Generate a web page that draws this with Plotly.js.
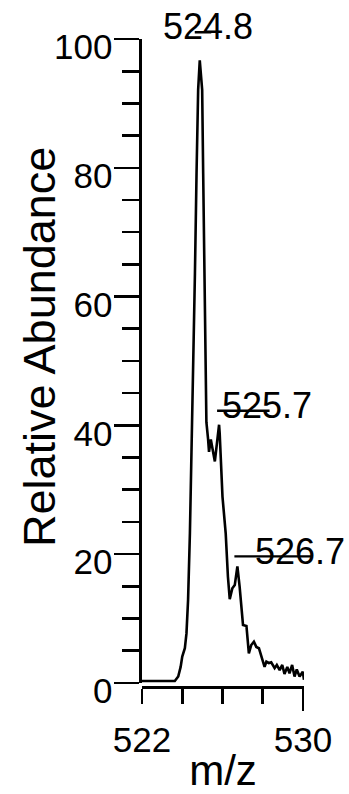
<!DOCTYPE html>
<html>
<head>
<meta charset="utf-8">
<script src="https://cdn.plot.ly/plotly-3.0.1.min.js"></script>
<style>html,body{margin:0;padding:0;background:#fff;}#chart{width:349px;height:794px;}</style>
</head>
<body>
<div id="chart"></div>
<script>
// m/z values of the profile spectrum
const mz = [522.00, 523.63, 523.80, 523.92, 524.00, 524.13, 524.21, 524.29, 524.38, 524.46,
  524.51, 524.63, 524.71, 524.79, 524.87, 524.99, 525.04, 525.12, 525.20, 525.28,
  525.33, 525.42, 525.62, 525.83, 525.86, 526.00, 526.16, 526.27, 526.36, 526.49,
  526.61, 526.74, 526.85, 527.02, 527.19, 527.31, 527.43, 527.56, 527.68, 527.81,
  527.93, 528.09, 528.18, 528.30, 528.42, 528.59, 528.70, 528.84, 528.97, 529.08,
  529.22, 529.33, 529.46, 529.58, 529.69, 529.83, 529.99, 530.05];
// relative abundance (%)
const abundance = [0.3, 0.3, 1.0, 2.5, 4.1, 5.4, 7.7, 12.9, 23.2, 36.2,
  38.8, 63.6, 79.1, 92.1, 96.7, 92.1, 79.1, 58.4, 40.5, 38.0,
  35.9, 37.8, 34.4, 40.1, 38.8, 28.9, 23.2, 16.5, 13.0, 14.7,
  15.2, 18.1, 15.0, 9.0, 8.85, 4.6, 5.9, 6.4, 5.6, 5.4,
  4.1, 2.5, 3.3, 3.1, 3.2, 2.3, 2.8, 2.0, 2.8, 1.4,
  2.5, 1.5, 2.8, 1.0, 2.1, 1.0, 1.75, 0.5];

// labelled peaks
const peakMz = [524.87, 525.83, 526.74];
const peakAbundance = [96.7, 40.1, 18.1];
const peakLabels = ['524.8', '525.7', '526.7'];

// axis ticks and titles
const xTickVals = [522, 524, 526, 528, 530];
const xTickText = ['522', '', '', '', '530'];
const xLongTick = [530];
const yTickVals = [0, 20, 40, 60, 80, 100];
const xTitle = 'm/z';
const yTitle = 'Relative Abundance';

// label placement (pixel offsets from each peak) - layout only
const labelShift = [[8, 34], [48, 19], [63, 15]];
const leaderShift = [[-5, 28, 17], [-2, 14, 53], [-3, 10, 78]];

const FONT = '"Liberation Sans", Arial, Helvetica, sans-serif';
const LW = 2.6;

const annotations = [];
peakLabels.forEach((t, i) => {
  annotations.push({
    x: peakMz[i], y: peakAbundance[i], xref: 'x', yref: 'y',
    text: t, showarrow: false,
    xshift: labelShift[i][0], yshift: labelShift[i][1],
    font: {family: FONT, size: 36, color: '#000'}
  });
  annotations.push({
    x: peakMz[i], y: peakAbundance[i], xref: 'x', yref: 'y',
    text: '', showarrow: true, arrowhead: 0, arrowwidth: 2.4, arrowcolor: '#000',
    standoff: 0, startstandoff: 0, borderpad: 0,
    xshift: leaderShift[i][0], yshift: leaderShift[i][1],
    axref: 'pixel', ayref: 'pixel', ax: leaderShift[i][2], ay: 0
  });
});
// y-axis title, placed as a rotated annotation so it can sit close to the tick labels
annotations.push({
  x: 0, y: 0.5, xref: 'paper', yref: 'paper', xanchor: 'center', yanchor: 'middle',
  text: yTitle, textangle: -90, showarrow: false,
  xshift: -103, yshift: 16,
  font: {family: FONT, size: 45, color: '#000'}
});

const traces = [
  {x: mz, y: abundance, type: 'scatter', mode: 'lines',
   line: {color: '#000', width: LW}, hoverinfo: 'skip', showlegend: false},
  {x: [], y: [], xaxis: 'x2', yaxis: 'y', type: 'scatter', mode: 'lines', showlegend: false}
];

const layout = {
  width: 349, height: 794,
  margin: {l: 142, r: 45, t: 39, b: 107},
  paper_bgcolor: '#fff', plot_bgcolor: '#fff',
  font: {family: FONT, color: '#000'},
  showlegend: false,
  xaxis: {
    range: [522, 530.05], anchor: 'free', position: 0,
    showgrid: false, zeroline: false,
    showline: true, linewidth: LW, linecolor: '#000',
    tickmode: 'array', tickvals: xTickVals, ticktext: xTickText,
    ticks: 'outside', ticklen: 15, tickwidth: LW, tickcolor: '#000',
    tickfont: {family: FONT, size: 35, color: '#000'},
    ticklabelstandoff: 6,
    title: {text: xTitle, font: {family: FONT, size: 42, color: '#000'}, standoff: 20}
  },
  xaxis2: {
    range: [522, 530.05], overlaying: 'x', anchor: 'free', position: 0,
    showgrid: false, zeroline: false, showline: false,
    tickmode: 'array', tickvals: xLongTick, showticklabels: false,
    ticks: 'outside', ticklen: 23, tickwidth: LW, tickcolor: '#000'
  },
  yaxis: {
    range: [0, 100], domain: [0.0062, 1], anchor: 'x',
    showgrid: false, zeroline: false,
    showline: true, linewidth: LW, linecolor: '#000',
    tickmode: 'array', tickvals: yTickVals,
    ticks: 'outside', ticklen: 25, tickwidth: LW, tickcolor: '#000',
    minor: {dtick: 5, ticks: 'outside', ticklen: 17, tickwidth: LW, tickcolor: '#000', showgrid: false},
    tickfont: {family: FONT, size: 35, color: '#000'},
    ticklabelshift: 8, ticklabelstandoff: -5
  },
  annotations: annotations
};

Plotly.newPlot('chart', traces, layout, {displayModeBar: false, staticPlot: true});
</script>
</body>
</html>
